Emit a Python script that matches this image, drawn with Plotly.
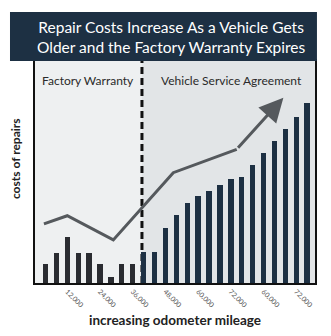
import plotly.graph_objects as go

# ---- data ----
bar_index = list(range(1, 26))
repair_costs = [8.6, 13.5, 20.7, 13.5, 13.5, 8.6, 2.7, 8.6, 8.6, 14.0, 14.0, 24.8, 30.5,
                36.0, 39.2, 41.6, 44.2, 46.8, 47.7, 53.0, 58.6, 64.0, 69.4, 74.8, 81.0]
warranty_end = 9.85
trend_x = [0.86, 3.0, 7.22, 12.72, 18.54]
trend_y = [26.6, 30.3, 19.4, 49.7, 60.2]
arrow_tip = (22.82, 83.5)
tick_pos = [3, 6, 9, 12, 15, 18, 21, 24]
tick_labels = ["12,000", "24,000", "36,000", "48,000", "60,000", "72,000", "60,000", "72,000"]
title_lines = ["Repair Costs Increase As a Vehicle Gets", "Older and the Factory Warranty Expires"]

NAVY = "#1d3043"
GRAY_BAR = "#2a2c31"
LINE_GRAY = "#55595d"

bar_colors = [GRAY_BAR if i < warranty_end else NAVY for i in bar_index]

fig = go.Figure()
fig.add_trace(go.Bar(x=bar_index, y=repair_costs, width=0.49,
                     marker=dict(color=bar_colors, line=dict(width=0)),
                     hoverinfo="skip"))
fig.add_trace(go.Scatter(x=trend_x, y=trend_y, mode="lines",
                         line=dict(color=LINE_GRAY, width=3), hoverinfo="skip"))

fig.add_annotation(x=arrow_tip[0], y=arrow_tip[1], ax=trend_x[-1], ay=trend_y[-1],
                   xref="x", yref="y", axref="x", ayref="y", text="",
                   showarrow=True, arrowhead=2, arrowsize=1.6, arrowwidth=3,
                   arrowcolor=LINE_GRAY)

shapes = [
    dict(type="rect", xref="x", yref="paper", x0=warranty_end, x1=26, y0=0, y1=1,
         fillcolor="#e2e5e7", line=dict(width=0), layer="below"),
    dict(type="line", xref="x", yref="paper", x0=warranty_end, x1=warranty_end, y0=0, y1=1,
         line=dict(color="#111111", width=3, dash="7px,4px"), layer="below"),
    dict(type="rect", xref="paper", yref="paper", x0=-0.0893, x1=1.007, y0=1.0, y1=1.2207,
         fillcolor=NAVY, line=dict(width=0), layer="above"),
]

fig.add_annotation(xref="paper", yref="paper", x=0.488, y=1.11, xanchor="center", yanchor="middle",
                   showarrow=False, text="<br>".join(title_lines), align="center",
                   font=dict(family="Lato", size=15.5, color="white"))
fig.add_annotation(xref="paper", yref="paper", x=0.191, y=0.91, xanchor="center", yanchor="middle",
                   showarrow=False, text="Factory Warranty",
                   font=dict(family="Lato", size=12, color="#2a2a2a"))
fig.add_annotation(xref="paper", yref="paper", x=0.70, y=0.91, xanchor="center", yanchor="middle",
                   showarrow=False, text="Vehicle Service Agreement",
                   font=dict(family="Lato", size=12, color="#2a2a2a"))
fig.add_annotation(xref="paper", yref="paper", x=-0.07, y=0.56, xanchor="center", yanchor="middle",
                   showarrow=False, textangle=-90, text="<b>costs of repairs</b>",
                   font=dict(family="Lato", size=12, color="#222222"))
fig.add_annotation(xref="paper", yref="paper", x=0.50, y=-0.165, xanchor="center", yanchor="middle",
                   showarrow=False, text="<b>increasing odometer mileage</b>",
                   font=dict(family="Lato", size=13.5, color="#222222"))

fig.update_layout(
    width=331, height=336,
    margin=dict(l=35, r=16, t=61, b=53),
    paper_bgcolor="white", plot_bgcolor="#eef0f1",
    showlegend=False, shapes=shapes, bargap=0,
    xaxis=dict(range=[0.04, 25.72], tickvals=tick_pos, ticktext=tick_labels, tickangle=45,
               tickfont=dict(family="Lato", size=7, color="#555555"),
               showgrid=False, zeroline=False, showline=True, linecolor="#111111",
               linewidth=2, mirror=True, ticks=""),
    yaxis=dict(range=[0, 100], showticklabels=False, showgrid=False, zeroline=False,
               showline=True, linecolor="#111111", linewidth=2, mirror=True, ticks=""),
)

fig.write_html("out.html")
